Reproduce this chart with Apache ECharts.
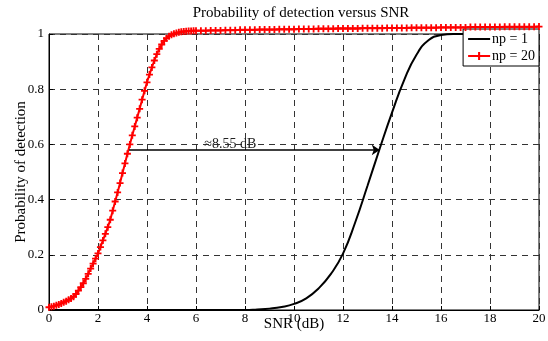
<!DOCTYPE html>
<html>
<head>
<meta charset="utf-8">
<script src="https://cdn.jsdelivr.net/npm/echarts@6/dist/echarts.min.js"></script>
<style>
  html, body { margin: 0; padding: 0; background: #fff; }
  #chart { width: 548px; height: 341px; }
</style>
</head>
<body>
<div id="chart"></div>
<script>
// np = 20 curve, 0..6 dB in 0.1 dB steps
var redHead = [
  0.010, 0.012, 0.014, 0.017, 0.020, 0.024, 0.028, 0.032, 0.037, 0.042,
  0.048, 0.058, 0.070, 0.083, 0.097, 0.113, 0.131, 0.150, 0.168, 0.186,
  0.205, 0.228, 0.252, 0.276, 0.300, 0.327, 0.360, 0.393, 0.426, 0.460,
  0.496, 0.531, 0.566, 0.600, 0.633, 0.665, 0.697, 0.729, 0.762, 0.794,
  0.825, 0.853, 0.879, 0.904, 0.927, 0.946, 0.962, 0.975, 0.985, 0.992,
  0.997, 1.001, 1.004, 1.006, 1.008, 1.009, 1.010, 1.011, 1.011, 1.012,
  1.012
];
// np = 20 curve, 6.2..20 dB in 0.2 dB steps
var redTail = [
  1.012, 1.012, 1.013, 1.013, 1.013, 1.014, 1.014, 1.014, 1.015, 1.015,
  1.015, 1.015, 1.016, 1.016, 1.016, 1.016, 1.017, 1.017, 1.017, 1.017,
  1.018, 1.018, 1.018, 1.018, 1.019, 1.019, 1.019, 1.019, 1.020, 1.020,
  1.020, 1.020, 1.020, 1.021, 1.021, 1.021, 1.021, 1.021, 1.022, 1.022,
  1.022, 1.022, 1.022, 1.023, 1.023, 1.023, 1.023, 1.023, 1.023, 1.024,
  1.024, 1.024, 1.024, 1.024, 1.024, 1.025, 1.025, 1.025, 1.025, 1.025,
  1.025, 1.025, 1.026, 1.026, 1.026, 1.026, 1.026, 1.026, 1.026, 1.027
];
// np = 1 curve
var blackSnr = [0, 8, 8.5, 9, 9.5, 10, 10.5, 11, 11.5, 12, 12.5, 13, 13.5, 14, 14.5, 15, 15.5, 16, 16.5, 17, 20];
var blackPd  = [0, 0, 0.002, 0.005, 0.011, 0.022, 0.042, 0.078, 0.130, 0.204, 0.318, 0.450, 0.585, 0.715, 0.834, 0.925, 0.978, 0.996, 1, 1, 1];

// annotation
var arrowFrom = [3.27, 0.58];
var arrowTo = [13.5, 0.58];
var arrowText = '≈8.55 dB';
var arrowTextAt = [7.4, 0.58];

var redData = [];
redHead.forEach(function (v, i) { redData.push([+(i * 0.1).toFixed(1), v]); });
redTail.forEach(function (v, i) { redData.push([+(6.2 + i * 0.2).toFixed(1), v]); });
var blackData = blackSnr.map(function (x, i) { return [x, blackPd[i]]; });

var serif = '"Liberation Serif", "DejaVu Serif", serif';
var plus = 'path://M-1.3,-5 L1.3,-5 L1.3,-1.3 L5,-1.3 L5,1.3 L1.3,1.3 L1.3,5 L-1.3,5 L-1.3,1.3 L-5,1.3 L-5,-1.3 L-1.3,-1.3 Z';
var gridLine = { show: true, lineStyle: { color: '#333', type: [6, 5], width: 1 } };

var chart = echarts.init(document.getElementById('chart'));
chart.setOption({
  animation: false,
  backgroundColor: '#fff',
  title: {
    text: 'Probability of detection versus SNR',
    left: 296, top: 1, textAlign: 'center',
    textStyle: { fontFamily: serif, fontSize: 15, fontWeight: 'normal', color: '#000' }
  },
  legend: {
    right: 9, top: 29, orient: 'vertical',
    backgroundColor: '#fff', borderColor: '#000', borderWidth: 1,
    padding: [3, 4, 3, 4], itemGap: 3, itemWidth: 22, itemHeight: 10,
    textStyle: { fontFamily: serif, fontSize: 14, color: '#000', padding: [0, 0, 0, -3] },
    data: [
      { name: 'np = 1', itemStyle: { opacity: 0 } },
      { name: 'np = 20' }
    ]
  },
  grid: {
    left: 49, right: 9, top: 34, bottom: 31,
    outerBoundsMode: 'none', containLabel: false,
    show: true, borderColor: '#000', borderWidth: 1
  },
  xAxis: {
    type: 'value', min: 0, max: 20, interval: 2,
    name: 'SNR (dB)', nameLocation: 'middle', nameGap: 7, nameMoveOverlap: false,
    nameTextStyle: { fontFamily: serif, fontSize: 15, color: '#000' },
    axisLine: { show: true, lineStyle: { color: '#000' } },
    axisTick: { inside: true, length: 4, lineStyle: { color: '#000' } },
    axisLabel: { fontFamily: serif, fontSize: 13, color: '#000', margin: 2 },
    splitLine: gridLine
  },
  yAxis: {
    type: 'value', min: 0, max: 1, interval: 0.2,
    name: 'Probability of detection', nameLocation: 'middle', nameGap: 20, nameMoveOverlap: false,
    nameTextStyle: { fontFamily: serif, fontSize: 15, color: '#000' },
    axisLine: { show: true, lineStyle: { color: '#000' } },
    axisTick: { inside: true, length: 4, lineStyle: { color: '#000' } },
    axisLabel: { fontFamily: serif, fontSize: 13, color: '#000', margin: 5 },
    splitLine: gridLine
  },
  series: [
    {
      name: 'np = 1', type: 'line', data: blackData,
      smooth: true, showSymbol: false, symbol: 'none',
      lineStyle: { color: '#000', width: 2 }, itemStyle: { color: '#000' },
      clip: false, z: 3,
      markLine: {
        silent: true, symbol: ['none', 'arrow'], symbolSize: 8,
        lineStyle: { color: '#000', width: 1.5, type: 'solid' },
        label: { show: false },
        data: [[{ coord: arrowFrom }, { coord: arrowTo }]]
      },
      markPoint: {
        silent: true, symbol: 'circle', symbolSize: 0,
        label: { show: true, formatter: arrowText, offset: [0, -6], fontFamily: serif, fontSize: 14, color: '#222' },
        data: [{ coord: arrowTextAt }]
      }
    },
    {
      name: 'np = 20', type: 'line', data: redData,
      symbol: plus, symbolSize: 7, showAllSymbol: true,
      lineStyle: { color: '#ff0000', width: 2 }, itemStyle: { color: '#ff0000' },
      clip: false, z: 4
    }
  ]
});
</script>
</body>
</html>
